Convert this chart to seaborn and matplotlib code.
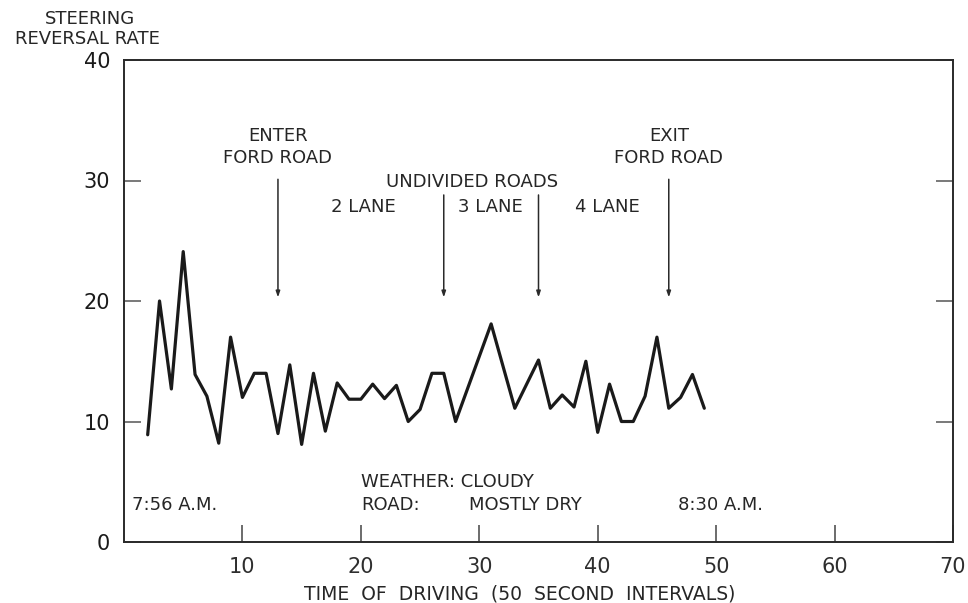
import matplotlib
matplotlib.use("Agg")
import matplotlib.pyplot as plt
import seaborn as sns
import pandas as pd

# Steering reversal rate per 50-second interval
interval = [2, 3, 4, 5, 6, 7, 8, 9, 10, 11, 12, 13, 14, 15, 16, 17, 18, 19, 20,
            21, 22, 23, 24, 25, 26, 27, 28, 31, 33, 35, 36, 37, 38, 39, 40, 41,
            42, 43, 44, 45, 46, 47, 48, 49]
reversal_rate = [8.9, 20, 12.7, 24.1, 13.9, 12.1, 8.2, 17, 12, 14, 14, 9, 14.7,
                 8.1, 14, 9.2, 13.2, 11.85, 11.85, 13.1, 11.9, 13, 10, 11, 14, 14,
                 10, 18.1, 11.1, 15.1, 11.1, 12.2, 11.2, 15, 9.1, 13.1, 10, 10,
                 12.1, 17, 11.1, 12, 13.9, 11.1]

# Route events (interval where each begins) and their arrow spans
event_x = [13, 27, 35, 46]
event_top = [30.1, 28.8, 28.8, 30.1]
event_tip = 20.3

x_ticks = [10, 20, 30, 40, 50, 60, 70]
y_ticks = [0, 10, 20, 30, 40]

sns.set_style("white")
plt.rcParams["font.family"] = ["DejaVu Sans"]

ink = "#1a1a1a"
text_ink = "#262626"
df = pd.DataFrame({"interval": interval, "rate": reversal_rate})

fig = plt.figure(figsize=(9.68, 6.03), dpi=100)
ax = fig.add_axes([124 / 968, 61 / 603, (953 - 124) / 968, (542 - 60) / 603])

sns.lineplot(data=df, x="interval", y="rate", ax=ax, color=ink, linewidth=2.3,
             estimator=None, sort=False)

ax.set_xlim(0, 70)
ax.set_ylim(0, 40)
ax.set_xticks(x_ticks)
ax.set_xticklabels([str(v) for v in x_ticks])
ax.set_yticks(y_ticks)
ax.set_yticklabels([str(v) for v in y_ticks])
ax.tick_params(axis="x", direction="in", length=12, width=1.1, color="#444444",
               pad=11, labelsize=15, labelcolor="#2e2e2e", bottom=True, top=False)
ax.tick_params(axis="y", direction="in", length=12, width=1.1, color="#555555",
               pad=10, labelsize=15, labelcolor="#1a1a1a", left=True, right=True)
for side in ["left", "right", "top", "bottom"]:
    ax.spines[side].set_color("#2a2a2a")
    ax.spines[side].set_linewidth(1.4)
    ax.spines[side].set_visible(True)

ax.set_xlabel("TIME  OF  DRIVING  (50  SECOND  INTERVALS)", fontsize=13.5,
              color=text_ink, va="center")
ax.set_ylabel("")
ax.xaxis.set_label_coords(33.4 / 70, -52 / 482)

# Y axis title above the axis
fig.text(90 / 968, 1 - 19 / 603, "STEERING", ha="center", va="center",
         fontsize=13, color=text_ink)
fig.text(87 / 968, 1 - 38.5 / 603, "REVERSAL RATE", ha="center", va="center",
         fontsize=13, color=text_ink)

# Event arrows
for ex, top in zip(event_x, event_top):
    ax.annotate("", xy=(ex, event_tip), xytext=(ex, top),
                arrowprops=dict(arrowstyle="-|>,head_length=0.35,head_width=0.12",
                                color="#2a2a2a", lw=1.1, shrinkA=0, shrinkB=0))

txt = dict(fontsize=13, color=text_ink, va="center")
ax.text(13, 33.7, "ENTER", ha="center", **txt)
ax.text(13, 31.9, "FORD ROAD", ha="center", **txt)
ax.text(46, 33.7, "EXIT", ha="center", **txt)
ax.text(46, 31.9, "FORD ROAD", ha="center", **txt)
ax.text(29.35, 29.9, "UNDIVIDED ROADS", ha="center", **txt)
ax.text(20.2, 27.8, "2 LANE", ha="center", **txt)
ax.text(30.9, 27.8, "3 LANE", ha="center", **txt)
ax.text(40.8, 27.8, "4 LANE", ha="center", **txt)

ax.text(20.0, 5.0, "WEATHER: CLOUDY", ha="left", **txt)
ax.text(20.0, 3.1, "ROAD:", ha="left", **txt)
ax.text(29.1, 3.1, "MOSTLY DRY", ha="left", **txt)
ax.text(0.65, 3.1, "7:56 A.M.", ha="left", **txt)
ax.text(46.8, 3.1, "8:30 A.M.", ha="left", **txt)

fig.savefig("out.png", dpi=100, facecolor="white")
